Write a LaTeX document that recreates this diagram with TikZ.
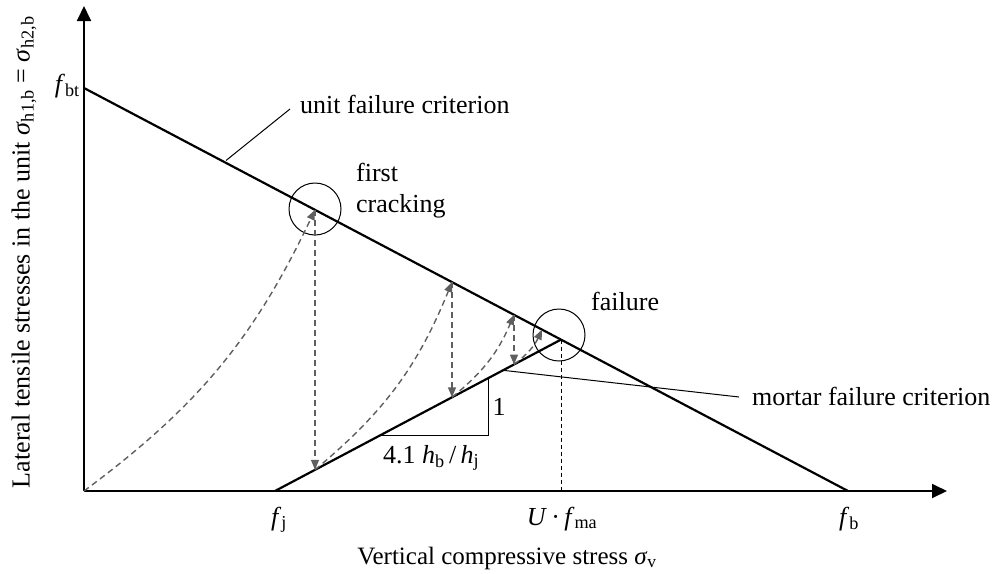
\documentclass[tikz,border=0pt]{standalone}
\usepackage{fontspec}
\setmainfont{Liberation Serif}
\usetikzlibrary{arrows.meta}
\definecolor{arrgray}{HTML}{5F5F5F}
\tikzset{
  axisline/.style={line width=1.8pt,-{Triangle[length=15pt,width=14pt]}},
  critline/.style={line width=2.2pt},
  thinline/.style={line width=1pt},
  loadpath/.style={arrgray,line width=1.4pt,dash pattern=on 6pt off 4pt,-{Triangle[length=10pt,width=8pt]}},
  guide/.style={line width=0.9pt,dash pattern=on 4pt off 3pt},
  lbl/.style={font=\fontsize{26}{31}\selectfont,inner sep=0pt},
  axlbl/.style={font=\fontsize{25}{30}\selectfont,inner sep=0pt},
  aylbl/.style={font=\fontsize{26}{31}\selectfont,inner sep=0pt,rotate=90},
}
\newcommand{\ital}[1]{\textit{#1}}
\begin{document}
\begin{tikzpicture}[x=1pt,y=-1pt]
\useasboundingbox (0,0) rectangle (998,573);
% key points
\coordinate (O) at (84,491);
\coordinate (ytop) at (84,6);
\coordinate (xend) at (947,491);
\coordinate (A) at (84,88);
\coordinate (B) at (848,491);
\coordinate (C) at (275,491);
\coordinate (F) at (561,339.6);
\coordinate (Fb) at (561,491);
\coordinate (P1) at (315,209.9);
\coordinate (Q1) at (315,469.8);
\coordinate (P2) at (452,282.1);
\coordinate (Q2) at (452,397.3);
\coordinate (P3) at (514,314.8);
\coordinate (Q3) at (514,364.5);
\coordinate (P4) at (542,329.6);
\coordinate (T1) at (380,435.4);
\coordinate (T2) at (488,435.4);
\coordinate (T3) at (488,378.2);
\coordinate (L1) at (226,160.5);
\coordinate (L2) at (290,109);
\coordinate (M1) at (503,370.3);
\coordinate (M2) at (739,397);
% axes
\draw[axisline] (O) -- (ytop);
\draw[axisline] (O) -- (xend);
% criteria
\draw[critline] (A) -- (B);
\draw[critline] (C) -- (F);
\draw[guide] (F) -- (Fb);
% slope triangle
\draw[thinline] (T1) -- (T2) -- (T3);
% circles
\node[draw,thinline,circle,minimum size=52pt,inner sep=0pt] (c1) at (315,209) {};
\node[draw,thinline,circle,minimum size=52pt,inner sep=0pt] (c2) at (559,335) {};
% leaders
\draw[thinline] (L1) -- (L2);
\draw[thinline] (M1) -- (M2);
% load paths
\draw[loadpath] (O) to[bend right=14] (P1);
\draw[loadpath] (P1) -- (Q1);
\draw[loadpath] (Q1) to[bend right=14] (P2);
\draw[loadpath] (P2) -- (Q2);
\draw[loadpath] (Q2) to[bend right=14] (P3);
\draw[loadpath] (P3) -- (Q3);
\draw[loadpath] (Q3) to[bend right=14] (P4);
% labels
\node[lbl,anchor=east] (fbt) at (80,86) {\ital{f}\textsubscript{bt}};
\node[lbl,anchor=base] (fj) at (279,525) {\ital{f}\textsubscript{j}};
\node[lbl,anchor=base] (ufma) at (562,525) {\ital{U}\,·\,\ital{f}\textsubscript{ma}};
\node[lbl,anchor=base] (fb) at (849,525) {\ital{f}\textsubscript{b}};
\node[lbl,anchor=base west] (unitlbl) at (300,113) {unit failure criterion};
\node[lbl,anchor=base west] (first) at (356,181) {first};
\node[lbl,anchor=base west] (cracking) at (356,212) {cracking};
\node[lbl,anchor=base west] (failure) at (591,310) {failure};
\node[lbl,anchor=base west] (mortarlbl) at (752,405) {mortar failure criterion};
\node[lbl] (one) at (499,407) {1};
\node[lbl,anchor=base west] (ratio) at (383,463) {4.1 \ital{h}\textsubscript{b}\,/\,\ital{h}\textsubscript{j}};
\node[aylbl] (ylbl) at (24,252) {Lateral tensile stresses in the unit \ital{σ}\textsubscript{h1,b} = \ital{σ}\textsubscript{h2,b}};
\node[axlbl,anchor=base] (xlbl) at (507,564) {Vertical compressive stress \ital{σ}\textsubscript{v}};
\end{tikzpicture}
\end{document}
